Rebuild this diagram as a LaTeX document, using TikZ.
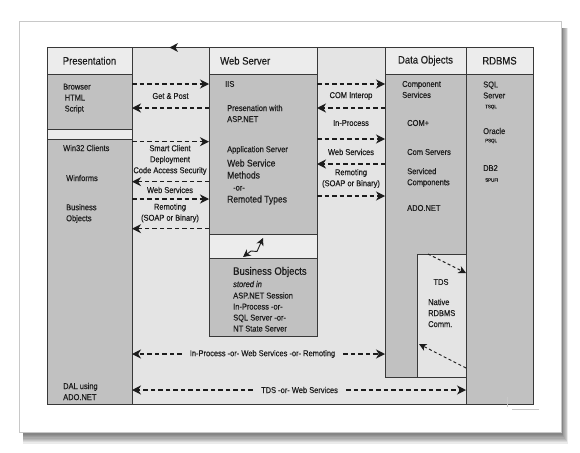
\documentclass[tikz,border=0pt]{standalone}
\usepackage{fontspec}
\setmainfont{Liberation Sans}[FakeStretch=0.88, FakeBold=0.3]
\usetikzlibrary{positioning, arrows.meta, calc}
\definecolor{paneline}{HTML}{383838}
\definecolor{gapfill}{HTML}{E4E4E4}
\definecolor{panefill}{HTML}{C1C1C1}
\definecolor{headfill}{HTML}{ECECEC}
\definecolor{pageline}{HTML}{C8C8C8}
\definecolor{ink}{HTML}{1C1C1C}

\begin{document}
\begin{tikzpicture}[x=1pt, y=-1pt,
    pane/.style={draw=paneline, line width=0.8pt, fill=panefill, inner sep=0pt, outer sep=0pt, anchor=north west},
    headpane/.style={pane, fill=headfill},
    colhead/.style={font=\fontsize{10.8}{12}\selectfont, text=ink, inner sep=0pt},
    lbl/.style={font=\fontsize{8.5}{11}\selectfont, text=ink, inner sep=0pt, anchor=west, align=left},
    gaplbl/.style={lbl, anchor=center, align=center},
    tinylbl/.style={lbl, font=\fontsize{5}{6}\selectfont},
    link/.style={draw=ink, line width=1.2pt, dash pattern=on 4.5pt off 3pt,
                 -{Stealth[length=9pt, width=9pt, inset=2.8pt]}},
    thinlink/.style={draw=ink, line width=0.9pt, dash pattern=on 3pt off 2.5pt,
                 -{Stealth[length=7.5pt, width=7.5pt, inset=2.2pt]}}]
    \useasboundingbox (0,0) rectangle (580,452);

    % page and its shadow
    \foreach \s in {1,...,9}
        \fill[black, opacity=0.08] (23,28) rectangle (561+0.8*\s, 432+1.3*\s);
    \draw[pageline, fill=white, line width=0.8pt] (19,21) rectangle (561,432);

    % columns
    \node[pane, fill=gapfill, minimum width=486pt, minimum height=357pt] (frame) at (47,47) {};
    \node[headpane, minimum width=85pt, minimum height=27.5pt] (preshead) at (47,47) {};
    \node[pane, below=0pt of preshead, minimum width=85pt, minimum height=55pt] (browserbox) {};
    \node[headpane, below=0pt of browserbox, minimum width=85pt, minimum height=10pt] (presstrip) {};
    \node[pane, below=0pt of presstrip, minimum width=85pt, minimum height=264.5pt] (win32box) {};

    \node[headpane, minimum width=108pt, minimum height=27.5pt] (wshead) at (209,47) {};
    \node[pane, below=0pt of wshead, minimum width=108pt, minimum height=159.5pt] (wsbox) {};
    \node[headpane, below=0pt of wsbox, minimum width=108pt, minimum height=24pt] (wsstrip) {};
    \node[pane, below=0pt of wsstrip, minimum width=108pt, minimum height=78pt] (bobox) {};

    \node[headpane, minimum width=81pt, minimum height=27.5pt] (dohead) at (385,47) {};
    \node[pane, below=0pt of dohead, minimum width=81pt, minimum height=302.5pt] (dobox) {};
    \node[pane, fill=gapfill, anchor=south east, minimum width=49pt, minimum height=123pt] (tdsbox) at (dobox.south east) {};

    \node[headpane, minimum width=67pt, minimum height=27.5pt] (dbhead) at (466,47) {};
    \node[pane, below=0pt of dbhead, minimum width=67pt, minimum height=329.5pt] (dbbox) {};

    % headings
    \node[colhead] (prestitle) at (preshead) {Presentation};
    \node[colhead, anchor=west] (wstitle) at ([xshift=11pt]wshead.west) {Web Server};
    \node[colhead] (dotitle) at (dohead) {Data Objects};
    \node[colhead] (dbtitle) at (dbhead) {RDBMS};

    % presentation
    \node[lbl] (browser) at (63,98.5) {Browser\\\hspace{1.5pt}HTML\\\hspace{1.5pt}Script};
    \node[lbl] (win32) at (63,148) {Win32 Clients};
    \node[lbl] (winforms) at (66,178) {Winforms};
    \node[lbl] (presbiz) at (66,213.5) {Business\\Objects};
    \node[lbl] (dal) at (63,391.5) {DAL using\\ADO.NET};

    % web server
    \node[lbl] (iis) at (225,84) {IIS};
    \node[lbl] (presasp) at (227,113.5) {Presenation with\\ASP.NET};
    \node[lbl] (appserver) at (227,150) {Application Server};
    \node[lbl, font=\fontsize{9.7}{12}\selectfont] (wsmethods) at (227,182)
        {Web Service\\Methods\\\hspace{6pt}{\fontsize{8.5}{12}\selectfont -or-}\\Remoted Types};
    \node[lbl, font=\fontsize{10.8}{12}\selectfont] (bizobjects) at (233,272) {Business Objects};
    \node[lbl, font=\fontsize{8.5}{11}\selectfont\itshape] (storedin) at (233,284) {stored in};
    \node[lbl] (sessionopts) at (233,312) {ASP.NET Session\\In-Process -or-\\SQL Server -or-\\NT State Server};

    % data objects
    \node[lbl] (compsvc) at (402,89.5) {Component\\Services};
    \node[lbl] (complus) at (407,123) {COM+};
    \node[lbl] (comservers) at (407,152) {Com Servers};
    \node[lbl] (serviced) at (407,177.5) {Serviced\\Components};
    \node[lbl] (adonet) at (407,208) {ADO.NET};
    \node[lbl, anchor=center] (tds) at (441,282) {TDS};
    \node[lbl] (native) at (428,313) {Native\\RDBMS\\Comm.};

    % rdbms
    \node[lbl] (sqlserver) at (483,90) {SQL\\Server};
    \node[tinylbl] (tsql) at (485,107) {TSQL};
    \node[lbl] (oracle) at (483,131) {Oracle};
    \node[tinylbl] (psql) at (485,141) {PSQL};
    \node[lbl] (db2) at (483,168) {DB2};
    \node[tinylbl] (spufi) at (485,180) {SPUFI};

    % presentation <-> web server
    \node[gaplbl] (getpost) at (170.5,96) {Get \& Post};
    \node[gaplbl] (smartclient) at (170,160) {Smart Client\\Deployment\\Code Access Security};
    \node[gaplbl] (presws) at (170,190) {Web Services};
    \node[gaplbl] (presremoting) at (170,213) {Remoting\\(SOAP or Binary)};
    \draw[link] (browserbox.east |- 0,84) -- (wsbox.west |- 0,84);
    \draw[link] (wsbox.west |- 0,108) -- (browserbox.east |- 0,108);
    \draw[link] (win32box.east |- 0,141.7) -- (wsbox.west |- 0,141.7);
    \draw[link] (wsbox.west |- 0,181.7) -- (win32box.east |- 0,181.7);
    \draw[link] (win32box.east |- 0,199) -- (wsbox.west |- 0,199);
    \draw[link] (wsbox.west |- 0,228.7) -- (win32box.east |- 0,228.7);

    % web server <-> data objects
    \node[gaplbl] (cominterop) at (351,96) {COM Interop};
    \node[gaplbl] (inprocess) at (351,123) {In-Process};
    \node[gaplbl] (dows) at (351,152) {Web Services};
    \node[gaplbl] (doremoting) at (351,178.5) {Remoting\\(SOAP or Binary)};
    \draw[link] (wsbox.east |- 0,84) -- (dobox.west |- 0,84);
    \draw[link] (dobox.west |- 0,108) -- (wsbox.east |- 0,108);
    \draw[link] (wsbox.east |- 0,139) -- (dobox.west |- 0,139);
    \draw[link] (dobox.west |- 0,164) -- (wsbox.east |- 0,164);
    \draw[link] (wsbox.east |- 0,196) -- (dobox.west |- 0,196);

    % web server <-> business objects
    \coordinate (boup) at (263,238);
    \coordinate (bodown) at (243,257);
    \draw[ink, line width=0.9pt, {Stealth[length=7.5pt, width=7.5pt, inset=2.2pt]}-{Stealth[length=7.5pt, width=7.5pt, inset=2.2pt]}]
        (bodown) -- (251,251) -- (257,251.5) -- (boup);

    % data objects <-> rdbms
    \coordinate (tdsin) at ([xshift=11pt]tdsbox.north west);
    \coordinate (tdsout) at (419,344);
    \draw[thinlink] (tdsin) -- (tdsbox.east |- 0,273);
    \draw[thinlink] (tdsbox.east |- 0,368) -- (tdsout);

    % bottom links
    \node[gaplbl, inner sep=8pt] (midlink) at (262.5,354) {In-Process -or- Web Services -or- Remoting};
    \draw[link] (midlink.west) -- (win32box.east |- midlink);
    \draw[link] (midlink.east) -- (dobox.west |- midlink);
    \node[gaplbl, inner sep=8pt] (dallink) at (299.5,390) {TDS -or- Web Services};
    \draw[link] (dallink.west) -- (win32box.east |- dallink);
    \draw[link] (dallink.east) -- (dbbox.west |- dallink);

    % stray marks
    \fill[ink] (169.5,47.5) -- (178,43) -- (175.5,47.5) -- (178,52) -- cycle;
    \draw[pageline, line width=0.8pt] (507,397) -- (507,407);
    \draw[pageline, line width=0.8pt] (512,409) -- (539,409);
\end{tikzpicture}
\end{document}
